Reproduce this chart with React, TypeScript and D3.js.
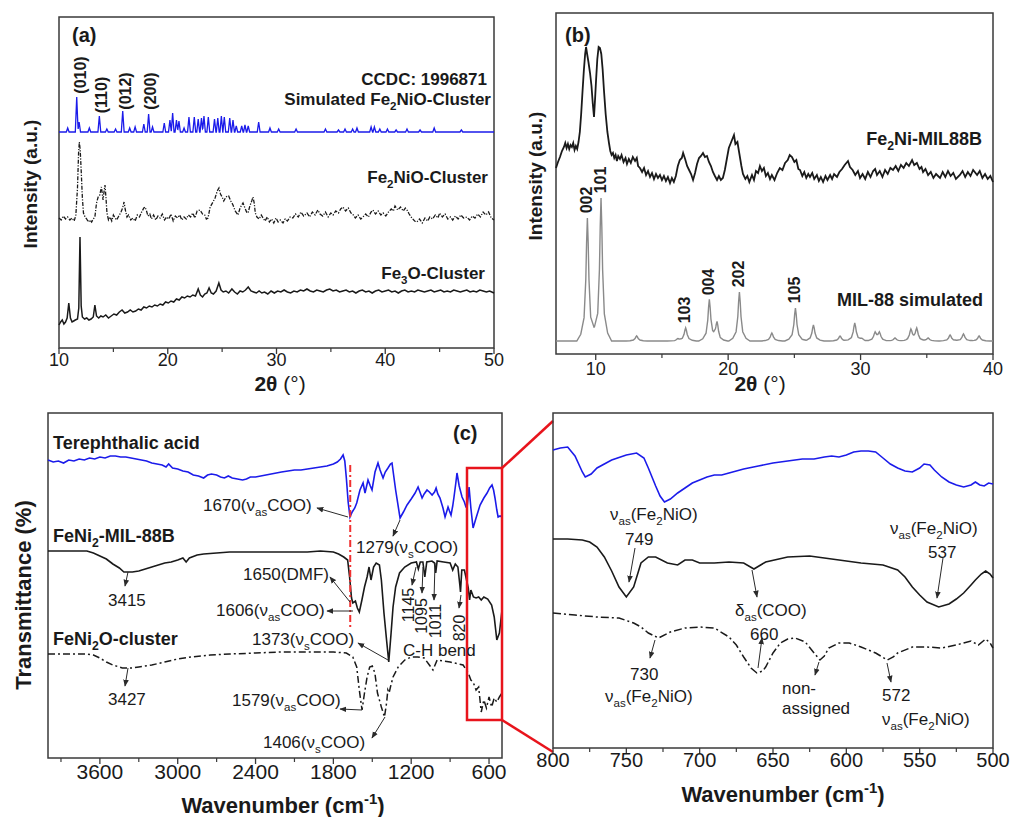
import React from "react";
import * as d3 from "d3";

const font = "Arial, 'Liberation Sans', Helvetica, sans-serif";
const ink = "#1a1a1a";
const blue = "#1b1bea";

// ---------- (a) XRD of the clusters ----------
const aTicks = [10, 20, 30, 40, 50];
const aMinor = [15, 25, 35, 45];
// simulated peaks [2theta, height]
const simFe2NiO = [[10.8,4],[11.63,35],[11.85,10],[12.79,4],[13.71,16],[14.4,3],[15.2,3],[15.86,21],[16.5,4],[17.0,5],[17.8,8],[18.24,18],[18.6,5],[19.68,9],[20.2,12],[20.45,19],[20.8,12],[21.03,11],[21.5,4],[21.95,15],[22.44,15],[22.8,13],[23.1,14],[23.33,16],[23.73,15],[24.3,13],[24.6,14],[24.93,16],[25.2,15],[25.7,14],[26.0,12],[26.3,6],[26.8,6],[27.1,7],[27.4,6],[28.36,10],[29.4,4],[30.2,3],[31.8,3],[34.5,3],[35.7,2],[36.3,3],[37.0,3],[37.4,4],[38.7,5],[39.0,5],[39.5,3],[40.2,3],[41.0,2],[42.0,3],[43.2,2],[44.5,4],[47.0,2]];
const fe2nioCluster = [[10,130],[10.2,128],[10.4,132],[10.6,129],[10.8,131],[11.0,128],[11.2,130],[11.4,127],[11.55,133],[11.7,160],[11.8,195],[11.87,206],[11.95,198],[12.05,175],[12.15,150],[12.25,135],[12.4,131],[12.55,129],[12.7,126],[12.85,128],[13.0,126],[13.15,129],[13.3,131],[13.45,145],[13.6,151],[13.75,153],[13.9,161],[14.05,148],[14.15,157],[14.23,163],[14.32,150],[14.41,135],[14.55,128],[14.7,131],[14.85,127],[15.0,133],[15.15,130],[15.3,128],[15.5,132],[15.7,136],[15.85,140],[15.98,146],[16.1,138],[16.25,131],[16.4,133],[16.6,128],[16.8,130],[17.0,127],[17.2,133],[17.4,131],[17.6,136],[17.8,140],[17.91,141],[18.05,137],[18.18,132],[18.35,134],[18.5,129],[18.7,133],[18.9,128],[19.1,132],[19.3,130],[19.5,134],[19.7,128],[19.9,131],[20.1,129],[20.3,134],[20.5,127],[20.7,132],[20.9,130],[21.1,133],[21.3,128],[21.5,131],[21.7,129],[21.9,133],[22.1,131],[22.3,135],[22.5,130],[22.7,137],[22.97,138],[23.2,134],[23.4,133],[23.55,129],[23.7,130],[23.9,141],[24.16,146],[24.35,150],[24.55,157],[24.71,160],[24.85,154],[25.0,151],[25.15,147],[25.3,150],[25.45,152],[25.6,152],[25.8,147],[26.0,143],[26.2,137],[26.46,133],[26.65,140],[26.8,143],[26.92,145],[27.1,140],[27.25,136],[27.38,135],[27.55,142],[27.72,147],[27.84,151],[27.95,145],[28.05,135],[28.2,131],[28.4,129],[28.6,133],[28.76,130],[28.95,127],[29.15,131],[29.35,126],[29.55,129],[29.75,125],[29.95,130],[30.15,126],[30.35,128],[30.6,125],[30.8,129],[31.0,127],[31.25,131],[31.5,130],[31.75,134],[32.0,131],[32.25,136],[32.5,132],[32.8,135],[33.05,131],[33.3,136],[33.55,133],[33.8,138],[34.0,134],[34.25,132],[34.5,136],[34.75,131],[35.0,135],[35.2,133],[35.45,137],[35.7,135],[35.9,139],[36.1,141],[36.35,137],[36.6,140],[36.85,135],[37.0,134],[37.25,130],[37.5,133],[37.75,129],[37.95,131],[38.2,134],[38.45,131],[38.7,136],[38.87,138],[39.1,134],[39.35,137],[39.6,133],[39.8,135],[40.05,132],[40.3,136],[40.55,139],[40.75,137],[40.9,142],[41.15,138],[41.4,141],[41.65,137],[41.85,140],[42.0,138],[42.2,134],[42.45,130],[42.7,127],[42.9,126],[43.15,129],[43.4,125],[43.65,130],[43.9,127],[44.1,131],[44.35,129],[44.6,133],[44.85,130],[45.0,135],[45.25,131],[45.5,134],[45.75,129],[46.0,131],[46.2,128],[46.45,132],[46.7,129],[46.95,133],[47.2,130],[47.5,131],[47.75,128],[48.0,132],[48.25,130],[48.5,134],[48.75,131],[49.0,136],[49.25,133],[49.5,136],[49.75,130],[50,128]];
const fe3oCluster = [[10,23],[10.15,26],[10.3,28],[10.45,24],[10.6,26],[10.75,30],[10.9,45],[11.05,30],[11.2,26],[11.35,27],[11.5,28],[11.7,29],[11.82,40],[11.93,111],[12.04,42],[12.15,31],[12.35,29],[12.55,30],[12.75,28],[12.95,29],[13.15,31],[13.3,43],[13.45,32],[13.65,30],[13.85,32],[14.05,31],[14.3,33],[14.55,30],[14.8,32],[15.05,34],[15.3,33],[15.55,36],[15.8,38],[16.05,35],[16.3,36],[16.55,38],[16.8,36],[17.05,37],[17.3,39],[17.55,38],[17.8,41],[18.05,40],[18.3,42],[18.55,41],[18.8,43],[19.05,42],[19.3,44],[19.55,43],[19.8,46],[20.05,45],[20.3,47],[20.55,46],[20.8,49],[21.05,48],[21.3,51],[21.55,50],[21.8,52],[22.05,51],[22.3,53],[22.55,52],[22.8,59],[23.0,53],[23.2,51],[23.4,54],[23.6,55],[23.8,60],[24.0,55],[24.2,54],[24.45,57],[24.7,65],[24.9,58],[25.1,56],[25.35,57],[25.6,55],[25.9,59],[26.15,56],[26.4,54],[26.65,57],[26.9,56],[27.15,58],[27.4,61],[27.65,57],[27.9,56],[28.15,55],[28.4,57],[28.65,55],[28.9,56],[29.2,54],[29.5,57],[29.8,55],[30.1,57],[30.4,56],[30.7,58],[31.0,56],[31.3,55],[31.6,57],[31.9,56],[32.2,58],[32.5,57],[32.8,59],[33.1,57],[33.4,56],[33.7,58],[34.0,57],[34.3,56],[34.6,58],[34.9,59],[35.2,57],[35.5,58],[35.8,56],[36.1,57],[36.4,58],[36.7,56],[37.0,57],[37.3,55],[37.6,57],[37.9,58],[38.2,56],[38.5,57],[38.8,55],[39.1,57],[39.4,58],[39.7,56],[40.0,57],[40.3,58],[40.6,56],[40.9,57],[41.2,55],[41.5,57],[41.8,58],[42.1,56],[42.4,57],[42.7,56],[43.0,58],[43.3,57],[43.6,56],[43.9,57],[44.2,58],[44.5,56],[44.8,57],[45.1,58],[45.4,56],[45.7,57],[46.0,56],[46.3,58],[46.6,57],[46.9,56],[47.2,57],[47.5,58],[47.8,56],[48.1,57],[48.4,56],[48.7,58],[49.0,57],[49.3,56],[49.6,57],[50,55]];
const aHkl = ["(010)", "(110)", "(012)", "(200)"];

// ---------- (b) XRD of the MOF ----------
const bTicks = [10, 20, 30, 40];
const bMinor = [15, 25, 35];
const fe2niMil = [[7.0,186],[7.15,192],[7.3,197],[7.45,203],[7.6,207],[7.7,211],[7.8,206],[7.9,210],[8.0,205],[8.1,209],[8.2,207],[8.3,211],[8.4,204],[8.5,208],[8.6,205],[8.7,212],[8.8,222],[8.9,240],[9.0,262],[9.1,283],[9.2,300],[9.27,307],[9.35,300],[9.45,292],[9.57,281],[9.68,268],[9.78,250],[9.87,237],[9.95,255],[10.03,275],[10.12,295],[10.22,307],[10.32,306],[10.42,300],[10.52,285],[10.62,264],[10.75,240],[10.88,222],[11.0,211],[11.1,203],[11.2,199],[11.3,201],[11.4,196],[11.5,199],[11.6,193],[11.7,198],[11.83,195],[11.95,199],[12.1,192],[12.25,196],[12.36,190],[12.5,195],[12.65,191],[12.8,197],[12.97,193],[13.1,196],[13.2,188],[13.34,186],[13.5,182],[13.65,186],[13.8,179],[13.95,183],[14.1,177],[14.25,181],[14.4,175],[14.55,180],[14.7,176],[14.85,179],[15.0,174],[15.15,178],[15.3,173],[15.45,177],[15.61,171],[15.75,176],[15.9,172],[16.05,178],[16.2,188],[16.35,194],[16.5,196],[16.6,201],[16.75,195],[16.9,188],[17.05,184],[17.2,180],[17.35,174],[17.5,181],[17.65,190],[17.8,196],[17.95,198],[18.1,201],[18.25,197],[18.4,198],[18.55,192],[18.7,188],[18.85,182],[19.0,178],[19.16,174],[19.3,178],[19.45,174],[19.6,176],[19.75,184],[19.9,195],[20.05,206],[20.2,211],[20.35,216],[20.44,219],[20.55,210],[20.7,212],[20.85,200],[21.0,188],[21.12,180],[21.3,175],[21.45,178],[21.6,172],[21.8,179],[21.95,174],[22.1,183],[22.26,181],[22.4,188],[22.55,183],[22.7,186],[22.85,178],[23.0,181],[23.16,175],[23.3,179],[23.5,174],[23.7,181],[23.9,186],[24.1,184],[24.3,191],[24.5,194],[24.65,199],[24.82,197],[25.0,192],[25.15,194],[25.3,185],[25.43,184],[25.6,178],[25.75,182],[25.9,176],[26.05,180],[26.18,177],[26.35,181],[26.5,175],[26.7,179],[26.85,173],[27.0,177],[27.17,172],[27.35,178],[27.5,174],[27.7,179],[27.85,175],[28.0,180],[28.22,177],[28.4,182],[28.6,185],[28.8,189],[29.05,193],[29.2,187],[29.4,184],[29.6,179],[29.8,183],[29.96,176],[30.15,180],[30.35,175],[30.55,182],[30.75,177],[30.95,183],[31.1,185],[31.24,179],[31.45,183],[31.65,177],[31.85,184],[32.05,180],[32.25,186],[32.45,184],[32.65,188],[32.85,183],[33.05,189],[33.25,186],[33.45,191],[33.65,188],[33.89,194],[34.05,189],[34.25,191],[34.45,185],[34.6,187],[34.72,182],[34.9,185],[35.1,179],[35.3,182],[35.5,176],[35.7,180],[36.0,176],[36.2,182],[36.4,177],[36.6,183],[36.8,178],[37.0,181],[37.2,175],[37.5,179],[37.7,183],[37.9,177],[38.1,182],[38.3,178],[38.5,184],[38.8,179],[39.0,183],[39.2,176],[39.4,180],[39.6,175],[39.8,178],[40,172]];
const mil88Sim = [[9.37,123],[10.4,143],[13.09,5],[16.2,2],[16.79,13],[18.58,41],[19.16,18],[20.85,49],[23.3,8],[25.08,33],[26.44,16],[28.45,5],[29.56,18],[30.1,2],[31.1,8],[31.42,8],[32.6,3],[33.8,11],[34.24,12],[35.1,3],[36.76,6],[37.77,7],[38.95,5]];
const bHkl = [["002", 9.37], ["101", 10.4], ["103", 16.79], ["004", 18.58], ["202", 20.85], ["105", 25.08]];

// ---------- (c) FTIR ----------
const cTicks = [3600, 3000, 2400, 1800, 1200, 600];
const cMinor = [3900, 3300, 2700, 2100, 1500, 900];
const tpaC = [[4000,298],[3960,296],[3920,297],[3880,295],[3840,298],[3800,297],[3760,299],[3720,298],[3680,300],[3640,299],[3600,301],[3560,300],[3520,302],[3480,302],[3440,301],[3400,301],[3360,300],[3320,299],[3280,298],[3240,297],[3200,295],[3160,294],[3120,293],[3090,291],[3070,294],[3040,290],[3000,289],[2960,287],[2920,286],[2880,283],[2840,282],[2800,280],[2770,283],[2740,284],[2700,283],[2670,281],[2640,280],[2610,282],[2580,280],[2540,279],[2500,278],[2470,279],[2440,281],[2400,281],[2360,282],[2320,283],[2280,284],[2240,285],[2200,286],[2150,287],[2100,288],[2050,288],[2000,289],[1950,290],[1900,291],[1850,292],[1800,294],[1770,296],[1745,299],[1725,303],[1712,297],[1700,280],[1686,256],[1672,241],[1655,246],[1635,250],[1620,255],[1595,268],[1571,275],[1556,265],[1533,278],[1515,272],[1502,268],[1479,286],[1456,295],[1440,288],[1417,280],[1400,286],[1379,290],[1360,294],[1348,295],[1320,268],[1286,240],[1260,246],[1232,253],[1200,259],[1170,265],[1147,271],[1130,265],[1116,260],[1100,264],[1078,268],[1060,266],[1039,263],[1020,266],[1008,270],[995,264],[978,260],[955,250],[939,241],[925,247],[916,251],[905,247],[893,243],[880,252],[870,261],[856,275],[847,285],[830,272],[808,261],[790,256],[778,251],[769,251],[760,262],[754,271],[740,250],[723,230],[700,240],[669,253],[640,260],[615,265],[595,270],[577,273],[565,268],[554,260],[540,248],[530,241],[515,242],[500,241]];
const mil88C = [[4000,207],[3850,207],[3700,207],[3650,205],[3600,202],[3550,199],[3500,194],[3450,190],[3415,186],[3350,186],[3300,187],[3250,189],[3200,191],[3150,193],[3100,195],[3050,196],[3000,198],[2960,200],[2935,196],[2910,200],[2850,203],[2800,204],[2700,205],[2600,206],[2400,206],[2200,206],[2000,206],[1900,207],[1800,206],[1760,204],[1720,201],[1690,198],[1675,181],[1660,160],[1650,155],[1630,157],[1615,150],[1600,146],[1580,158],[1560,171],[1540,181],[1525,191],[1510,178],[1490,191],[1470,195],[1445,193],[1430,178],[1410,145],[1390,118],[1373,96],[1355,125],[1340,151],[1320,171],[1290,185],[1250,191],[1200,195],[1160,196],[1145,189],[1130,196],[1110,196],[1095,181],[1080,196],[1040,197],[1020,195],[1011,185],[1000,197],[950,196],[900,195],[880,188],[860,194],[840,191],[825,173],[820,166],[810,188],[790,188],[770,176],[760,170],[750,158],[740,168],[720,161],[700,160],[680,161],[660,158],[640,161],[610,159],[580,153],[560,141],[540,118],[520,125],[500,148]];
const clusterC = [[4000,104],[3800,104],[3700,104],[3650,103],[3600,100],[3550,96],[3500,93],[3427,90],[3350,90],[3300,91],[3200,93],[3100,96],[3000,99],[2900,101],[2750,103],[2600,104],[2400,105],[2200,106],[2000,106],[1800,106],[1700,105],[1650,101],[1620,91],[1600,68],[1579,48],[1560,65],[1540,81],[1520,91],[1500,92],[1480,85],[1460,65],[1430,51],[1406,41],[1390,55],[1380,68],[1370,65],[1360,71],[1340,81],[1300,91],[1250,98],[1200,101],[1150,101],[1100,100],[1060,93],[1032,88],[1000,98],[900,96],[800,93],[760,85],[740,78],[720,75],[700,68],[680,71],[660,46],[640,58],[620,50],[600,61],[580,51],[560,60],[540,56],[520,61],[500,65]];
const dmfLine = 1670;

// ---------- (d) FTIR zoom 800-500 ----------
const dTicks = [800, 750, 700, 650, 600, 550, 500];
const dMinor = [775, 725, 675, 625, 575, 525];
const tpaD = [[800,298],[795,300],[790,301],[785,292],[780,276],[778,271],[774,274],[770,280],[760,288],[750,293],[743,295],[738,290],[735,280],[730,262],[727,252],[724,246],[720,249],[715,255],[710,260],[705,265],[700,268],[695,271],[690,273],[685,273],[680,275],[670,279],[660,282],[650,285],[640,287],[630,289],[622,289],[615,291],[610,292],[605,291],[600,293],[595,296],[590,297],[585,297],[580,296],[575,290],[570,284],[565,280],[560,277],[555,276],[550,280],[547,284],[543,283],[540,278],[535,271],[530,266],[525,263],[520,261],[515,263],[512,266],[509,263],[506,262],[503,265],[500,264]];
const mil88D = [[800,209],[790,209],[780,208],[775,206],[770,201],[765,191],[760,177],[755,161],[750,151],[745,161],[740,185],[735,191],[730,191],[722,185],[715,183],[710,188],[705,188],[700,185],[690,185],[680,186],[670,185],[663,179],[655,186],[640,191],[625,192],[610,189],[590,185],[575,183],[565,178],[560,171],[555,161],[550,153],[545,146],[537,141],[530,144],[525,149],[520,155],[515,163],[512,168],[508,174],[505,177],[502,174],[500,170]];
const clusterD = [[800,135],[785,133],[770,131],[755,130],[745,125],[740,121],[735,115],[728,110],[720,116],[710,120],[700,121],[690,120],[680,111],[675,103],[670,91],[665,80],[661,75],[657,77],[655,81],[650,95],[645,105],[640,109],[635,110],[628,106],[622,95],[618,88],[615,92],[612,100],[605,105],[598,105],[590,101],[580,95],[572,88],[568,91],[565,95],[555,101],[545,101],[535,100],[525,103],[520,105],[515,107],[510,103],[505,109],[502,105],[500,100]];

// peak table -> piecewise profile
function profile(peaks: number[][], base: number, lo: number, hi: number, offs: number[], fr: number[]) {
  const shape = (d: number) => {
    for (let i = 1; i < offs.length; i++) {
      if (d <= offs[i]) return fr[i - 1] + (fr[i] - fr[i - 1]) * (d - offs[i - 1]) / (offs[i] - offs[i - 1]);
    }
    return 0;
  };
  const xs = new Set<number>([lo, hi]);
  peaks.forEach(([p]) => offs.forEach(o => { xs.add(+(p - o).toFixed(4)); xs.add(+(p + o).toFixed(4)); }));
  return Array.from(xs).filter(v => v >= lo && v <= hi).sort((a, b) => a - b)
    .map(x => [x, base + d3.sum(peaks, ([p, h]) => h * shape(Math.abs(x - p)))]);
}

type Part = [string, string?];
function Rich({ x, y, parts, size = 17, anchor = "start", weight = "normal" }:
  { x: number; y: number; parts: Part[]; size?: number; anchor?: string; weight?: string }) {
  let shift = 0;
  return (
    <text x={x} y={y} fontSize={size} textAnchor={anchor} fontWeight={weight} fontFamily={font} fill={ink}>
      {parts.map(([t, k], i) => {
        const target = k === "sub" ? size * 0.3 : k === "sup" ? -size * 0.4 : 0;
        const dy = target - shift;
        shift = target;
        return <tspan key={i} dy={dy} fontSize={k ? size * 0.68 : size}>{t}</tspan>;
      })}
    </text>
  );
}

function Frame({ x, y, ticks, minor, labelY, size }:
  { x: d3.ScaleLinear<number, number>; y: d3.ScaleLinear<number, number>; ticks: number[]; minor: number[]; labelY: number; size: number }) {
  const [x0, x1] = x.range();
  const [yb, yt] = y.range();
  return (
    <g>
      <rect x={Math.min(x0, x1)} y={yt} width={Math.abs(x1 - x0)} height={yb - yt} fill="none" stroke="#3a3a3a" strokeWidth={1.5} />
      {ticks.map(t => <line key={"M" + t} x1={x(t)} x2={x(t)} y1={yb} y2={yb + 6} stroke="#3a3a3a" strokeWidth={1.3} />)}
      {minor.map(t => <line key={"m" + t} x1={x(t)} x2={x(t)} y1={yb} y2={yb + 4} stroke="#3a3a3a" strokeWidth={1.2} />)}
      {ticks.map(t => (
        <text key={"L" + t} x={x(t)} y={labelY} fontSize={size} textAnchor="middle" fontFamily={font} fill={ink}>{t}</text>
      ))}
    </g>
  );
}

function VText({ t, cx, cy, size, weight = "normal" }: { t: string; cx: number; cy: number; size: number; weight?: string }) {
  return <text x={cx} y={cy} fontSize={size} fontWeight={weight} fontFamily={font} fill={ink}
    textAnchor="middle" dominantBaseline="central" transform={`rotate(-90 ${cx} ${cy})`}>{t}</text>;
}

export default function App() {
  const xA = d3.scaleLinear().domain([10, 50]).range([59, 494]);
  const yA = d3.scaleLinear().domain([0, 331]).range([348, 17]);
  const xB = d3.scaleLinear().domain([7, 40]).range([556, 993]);
  const yB = d3.scaleLinear().domain([0, 341]).range([354, 13]);
  const xC = d3.scaleLinear().domain([4000, 500]).range([48, 502]);
  const yC = d3.scaleLinear().domain([0, 345]).range([758, 413]);
  const xD = d3.scaleLinear().domain([800, 500]).range([553, 993]);
  const yD = d3.scaleLinear().domain([0, 335]).range([748, 413]);

  const mk = (x: any, y: any) => d3.line<number[]>().x(d => x(d[0])).y(d => y(d[1]));
  const lA = mk(xA, yA), lB = mk(xB, yB), lC = mk(xC, yC), lD = mk(xD, yD);

  const simA = profile(simFe2NiO, 216, 10, 50, [0, 0.13], [1, 0]);
  const simB = profile(mil88Sim, 13, 7, 40, [0, 0.06, 0.12, 0.25, 0.5, 0.8], [1, 0.8, 0.5, 0.19, 0.055, 0]);

  const arrowsC = [[348,517,317,508],[400,520,393,536],[350,602,330,577],[353,611,327,611],[388,660,358,643],[128,572,125,586],[128,668,125,686],[362,710,340,709],[385,717,372,738],[416,567,412,585],[423,567,422,593],[435,563,434,600],[461,595,459,608]];
  const arrowsD = [[635,548,629,582],[943,558,937,598],[752,570,757,597],[758,668,762,638],[655,640,650,658],[819,662,815,675],[887,663,891,682]];
  const fe2nio = (): Part[] => [["ν"], ["as", "sub"], ["(Fe"], ["2", "sub"], ["NiO)"]];
  const bold = "bold";

  return (
    <svg width={1012} height={817} style={{ position: "absolute", left: 0, top: 0, background: "#fff" }}>
      <defs>
        <marker id="ah" viewBox="0 0 10 10" refX="9" refY="5" markerWidth="7" markerHeight="7" orient="auto">
          <path d="M0,1 L10,5 L0,9 z" fill="#2a2a2a" />
        </marker>
      </defs>
      <rect width={1012} height={817} fill="#fff" />

      {/* (a) */}
      <Frame x={xA} y={yA} ticks={aTicks} minor={aMinor} labelY={366} size={18} />
      <path d={lA(simA) || ""} fill="none" stroke={blue} strokeWidth={1.3} />
      <path d={lA(fe2nioCluster) || ""} fill="none" stroke={ink} strokeWidth={1.3} strokeDasharray="4 1.5 1.2 1.5" />
      <path d={lA(fe3oCluster) || ""} fill="none" stroke={ink} strokeWidth={1.5} />
      <text x={72} y={42} fontSize={20} fontWeight={bold} fontFamily={font} fill={ink}>(a)</text>
      {aHkl.map((t, i) => {
        const c = [[80, 75], [101, 95], [125, 91], [150, 91]][i];
        return <VText key={t} t={t} cx={c[0]} cy={c[1]} size={16} weight={bold} />;
      })}
      <Rich x={487} y={85} anchor="end" weight={bold} parts={[["CCDC: 1996871"]]} />
      <Rich x={491} y={105} anchor="end" weight={bold} parts={[["Simulated Fe"], ["2", "sub"], ["NiO-Cluster"]]} />
      <Rich x={488} y={183} anchor="end" weight={bold} parts={[["Fe"], ["2", "sub"], ["NiO-Cluster"]]} />
      <Rich x={485} y={279} anchor="end" weight={bold} parts={[["Fe"], ["3", "sub"], ["O-Cluster"]]} />
      <VText t="Intensity (a.u.)" cx={30} cy={184} size={19} weight={bold} />
      <text x={280} y={391} fontSize={21} fontFamily={font} fill={ink} textAnchor="middle">
        <tspan fontWeight={bold}>2θ</tspan> (°)</text>

      {/* (b) */}
      <Frame x={xB} y={yB} ticks={bTicks} minor={bMinor} labelY={375} size={18} />
      <path d={lB(simB) || ""} fill="none" stroke="#8a8a8a" strokeWidth={1.4} />
      <path d={lB(fe2niMil) || ""} fill="none" stroke={ink} strokeWidth={1.8} />
      <text x={565} y={42} fontSize={20} fontWeight={bold} fontFamily={font} fill={ink}>(b)</text>
      {bHkl.map(([t, p]) => {
        const pk = mil88Sim.find(d => d[0] === p)!;
        return <VText key={t as string} t={t as string} cx={xB(p as number) - 1} cy={yB(pk[1] + 13) - 18} size={16} weight={bold} />;
      })}
      <Rich x={982} y={145} anchor="end" weight={bold} size={18} parts={[["Fe"], ["2", "sub"], ["Ni-MIL88B"]]} />
      <Rich x={983} y={306} anchor="end" weight={bold} size={18} parts={[["MIL-88 simulated"]]} />
      <VText t="Intensity (a.u.)" cx={535} cy={176} size={19} weight={bold} />
      <text x={760} y={391} fontSize={21} fontFamily={font} fill={ink} textAnchor="middle">
        <tspan fontWeight={bold}>2θ</tspan> (°)</text>

      {/* (c) */}
      <Frame x={xC} y={yC} ticks={cTicks} minor={cMinor} labelY={779} size={21} />
      <path d={lC(tpaC) || ""} fill="none" stroke={blue} strokeWidth={1.6} />
      <path d={lC(mil88C) || ""} fill="none" stroke={ink} strokeWidth={1.6} />
      <path d={lC(clusterC) || ""} fill="none" stroke={ink} strokeWidth={1.5} strokeDasharray="7 3 2 3" />
      <line x1={xC(dmfLine)} x2={xC(dmfLine)} y1={465} y2={628} stroke="#f03030" strokeWidth={2} strokeDasharray="7 3 2 3" />
      <rect x={467} y={468} width={35} height={252} fill="none" stroke="#e8141c" strokeWidth={2.5} />
      <line x1={502} y1={468} x2={553} y2={421} stroke="#e8141c" strokeWidth={2.5} />
      <line x1={502} y1={720} x2={553} y2={752} stroke="#e8141c" strokeWidth={2.5} />
      {arrowsC.map((a, i) => <line key={"ac" + i} x1={a[0]} y1={a[1]} x2={a[2]} y2={a[3]} stroke="#2a2a2a" strokeWidth={1} markerEnd="url(#ah)" />)}
      <Rich x={53} y={449} size={18} weight={bold} parts={[["Terephthalic acid"]]} />
      <Rich x={53} y={542} size={18} weight={bold} parts={[["FeNi"], ["2", "sub"], ["-MIL-88B"]]} />
      <Rich x={53} y={645} size={18} weight={bold} parts={[["FeNi"], ["2", "sub"], ["O-cluster"]]} />
      <text x={453} y={440} fontSize={20} fontWeight={bold} fontFamily={font} fill={ink}>(c)</text>
      <Rich x={203} y={511} parts={[["1670(ν"], ["as", "sub"], ["COO)"]]} />
      <Rich x={356} y={553} parts={[["1279(ν"], ["s", "sub"], ["COO)"]]} />
      <Rich x={243} y={580} parts={[["1650(DMF)"]]} />
      <Rich x={216} y={616} parts={[["1606(ν"], ["as", "sub"], ["COO)"]]} />
      <Rich x={252} y={645} parts={[["1373(ν"], ["s", "sub"], ["COO)"]]} />
      <Rich x={108} y={606} parts={[["3415"]]} />
      <Rich x={108} y={705} parts={[["3427"]]} />
      <Rich x={232} y={706} parts={[["1579(ν"], ["as", "sub"], ["COO)"]]} />
      <Rich x={263} y={748} parts={[["1406(ν"], ["s", "sub"], ["COO)"]]} />
      <Rich x={403} y={656} parts={[["C-H bend"]]} />
      {[["1145", 408, 605], ["1095", 421, 616], ["1011", 435, 621], ["820", 459, 628]].map(([t, cx, cy]) => (
        <VText key={t as string} t={t as string} cx={cx as number} cy={cy as number} size={16} />
      ))}
      <VText t="Transmittance (%)" cx={23} cy={595} size={22} weight={bold} />
      <Rich x={283} y={813} anchor="middle" size={22} weight={bold} parts={[["Wavenumber (cm"], ["-1", "sup"], [")"]]} />

      {/* (d) */}
      <Frame x={xD} y={yD} ticks={dTicks} minor={dMinor} labelY={767} size={20} />
      <path d={lD(tpaD) || ""} fill="none" stroke={blue} strokeWidth={1.6} />
      <path d={lD(mil88D) || ""} fill="none" stroke={ink} strokeWidth={1.6} />
      <path d={lD(clusterD) || ""} fill="none" stroke={ink} strokeWidth={1.5} strokeDasharray="8 3 2 3" />
      {arrowsD.map((a, i) => <line key={"ad" + i} x1={a[0]} y1={a[1]} x2={a[2]} y2={a[3]} stroke="#2a2a2a" strokeWidth={1} markerEnd="url(#ah)" />)}
      <Rich x={610} y={520} parts={fe2nio()} />
      <Rich x={625} y={545} parts={[["749"]]} />
      <Rich x={890} y={534} parts={fe2nio()} />
      <Rich x={928} y={558} parts={[["537"]]} />
      <Rich x={735} y={616} parts={[["δ"], ["as", "sub"], ["(COO)"]]} />
      <Rich x={750} y={640} parts={[["660"]]} />
      <Rich x={630} y={680} parts={[["730"]]} />
      <Rich x={605} y={702} parts={fe2nio()} />
      <Rich x={782} y={694} parts={[["non-"]]} />
      <Rich x={782} y={714} parts={[["assigned"]]} />
      <Rich x={882} y={701} parts={[["572"]]} />
      <Rich x={882} y={725} parts={fe2nio()} />
      <Rich x={783} y={802} anchor="middle" size={22} weight={bold} parts={[["Wavenumber (cm"], ["-1", "sup"], [")"]]} />
    </svg>
  );
}
